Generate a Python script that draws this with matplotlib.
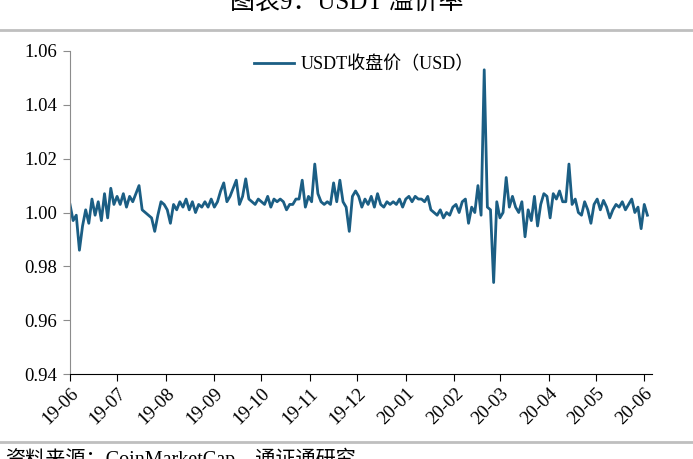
import numpy as np
import pandas as pd
import matplotlib
matplotlib.use("Agg")
import matplotlib.pyplot as plt
import matplotlib.dates as mdates
from matplotlib.lines import Line2D

# ------------------------------
# Data: USDT close price (one point every 2 days)
# ------------------------------
start_date = "2019-06-01"

jun19 = [1.003, 0.997, 0.999, 0.986, 0.995, 1.001, 0.996, 1.005, 0.999, 1.004,
         0.997, 1.007, 0.998, 1.009, 1.003]
jul19 = [1.006, 1.003, 1.007, 1.002, 1.006, 1.004, 1.007, 1.010, 1.001, 1.000,
         0.999, 0.998, 0.993, 0.999, 1.004, 1.003]
aug19 = [1.001, 0.996, 1.003, 1.001, 1.004, 1.002, 1.005, 1.001, 1.004, 1.000,
         1.003, 1.002, 1.004, 1.002, 1.005]
sep19 = [1.002, 1.004, 1.008, 1.011, 1.004, 1.006, 1.009, 1.012, 1.003, 1.006,
         1.0125, 1.005, 1.004, 1.003, 1.005]
oct19 = [1.004, 1.003, 1.006, 1.002, 1.005, 1.004, 1.005, 1.004, 1.001, 1.003,
         1.003, 1.005, 1.005, 1.012, 1.002, 1.006]
nov19 = [1.004, 1.018, 1.007, 1.004, 1.003, 1.004, 1.003, 1.011, 1.004, 1.012,
         1.004, 1.002, 0.993, 1.006, 1.008]
dec19 = [1.006, 1.002, 1.005, 1.003, 1.006, 1.002, 1.007, 1.003, 1.002, 1.004,
         1.003, 1.004, 1.003, 1.005, 1.002]
jan20 = [1.005, 1.006, 1.004, 1.006, 1.005, 1.005, 1.004, 1.006, 1.001, 1.000,
         0.999, 1.001, 0.998, 1.000, 0.999, 1.002]
feb20 = [1.003, 1.000, 1.004, 1.005, 0.996, 1.002, 1.000, 1.010, 0.999, 1.053,
         1.002, 1.001, 0.974, 1.004]
mar20 = [0.998, 1.000, 1.013, 1.002, 1.006, 1.002, 1.000, 1.004, 0.991, 1.001,
         0.997, 1.006, 0.995, 1.003, 1.007, 1.006]
apr20 = [0.998, 1.007, 1.005, 1.008, 1.004, 1.004, 1.018, 1.003, 1.005, 1.000,
         0.999, 1.004, 1.001, 0.996, 1.003]
may20 = [1.005, 1.001, 1.0045, 1.002, 0.998, 1.001, 1.003, 1.002, 1.004, 1.001,
         1.003, 1.005, 1.000, 1.002, 0.994]
jun20 = [1.003, 0.999]

prices = (jun19 + jul19 + aug19 + sep19 + oct19 + nov19 + dec19 + jan20 +
          feb20 + mar20 + apr20 + may20 + jun20)
dates = pd.date_range(start_date, periods=len(prices), freq="2D")

series_label = "USDT收盘价（USD）"
title_text = "图表9：USDT 溢价率"
source_text = "资料来源：CoinMarketCap，通证通研究"

y_ticks = [0.94, 0.96, 0.98, 1.00, 1.02, 1.04, 1.06]

# ------------------------------
# Plot
# ------------------------------
serif = ["Liberation Serif", "Noto Sans CJK SC"]
line_color = "#1B5E84"

fig = plt.figure(figsize=(6.93, 4.59), dpi=100)
ax = fig.add_axes([0.101, 0.185, 0.840, 0.704])

ax.plot(dates, prices, color=line_color, lw=2.0, label=series_label)

ax.set_ylim(0.94, 1.06)
ax.set_yticks(y_ticks)
ax.set_yticklabels([f"{v:.2f}" for v in y_ticks], fontfamily=serif, fontsize=13.5)
ax.set_xlim(pd.Timestamp("2019-06-01"), pd.Timestamp("2020-06-06"))
ax.xaxis.set_major_locator(mdates.MonthLocator())
ax.xaxis.set_major_formatter(mdates.DateFormatter("%y-%m"))
for lbl in ax.get_xticklabels():
    lbl.set_fontfamily(serif)
    lbl.set_fontsize(13.5)
    lbl.set_rotation(45)
    lbl.set_ha("right")
    lbl.set_rotation_mode("anchor")

for s in ["top", "right"]:
    ax.spines[s].set_visible(False)
ax.spines["left"].set_color("#8C8C8C")
ax.spines["bottom"].set_color("black")
ax.tick_params(axis="y", direction="out", length=5, color="#8C8C8C", pad=4)
ax.tick_params(axis="x", direction="out", length=5, color="black", pad=3)

ax.legend(loc="upper center", bbox_to_anchor=(0.505, 1.035), frameon=False,
          prop={"family": serif, "size": 13}, handlelength=2.2,
          handletextpad=0.4)

# title and source text, cut by the figure edge as in the report page
fig.text(0.5, 1 - 9 / 459, title_text, ha="center", va="baseline",
         fontfamily=serif, fontsize=18)
fig.text(0.008, 1 - 448 / 459, source_text, ha="left", va="top",
         fontfamily=serif, fontsize=14.5)
fig.add_artist(Line2D([0, 1], [1 - 30 / 459] * 2, color="#BFBFBF", lw=2))
fig.add_artist(Line2D([0, 1], [1 - 442 / 459] * 2, color="#BFBFBF", lw=2))

fig.savefig("out.png", dpi=100)
